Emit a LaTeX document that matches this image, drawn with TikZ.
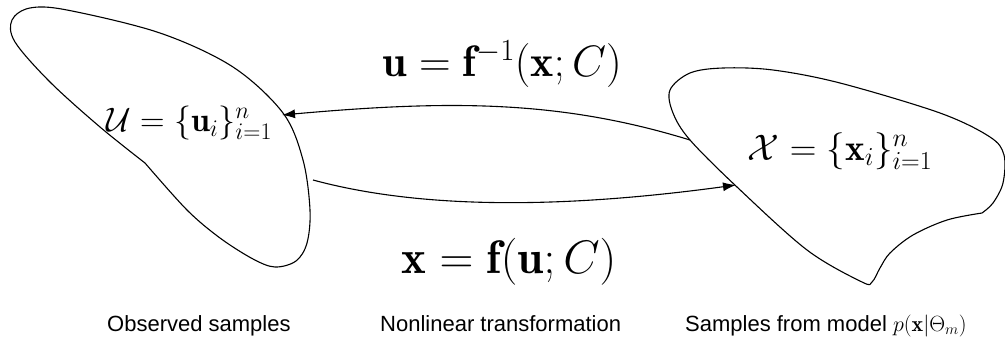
\documentclass[tikz,border=0pt]{standalone}
\usepackage{fix-cm}
\usepackage{amsmath}
\usepackage{fontspec}
\newfontfamily\labfont{Liberation Sans}
\usetikzlibrary{arrows.meta}
\tikzset{
  blob/.style={draw=black, line width=1.1pt, line join=round},
  conn/.style={draw=black, line width=1.1pt, -{Latex[length=13pt,width=9pt]}},
  lab/.style={font=\labfont\fontsize{22}{24}\selectfont, inner sep=0pt, anchor=base west},
  setlab/.style={inner sep=0pt, anchor=base},
  maplab/.style={inner sep=0pt, anchor=base}
}
\begin{document}
\begin{tikzpicture}[x=1pt,y=-1pt]
\useasboundingbox (0,0) rectangle (1005,343);
% left blob
\draw[blob] plot[smooth, tension=0.55] coordinates {
 (145,163) (187,210) (220,238) (253,259) (275,267) (296,261) (307,243) (310,210)
 (303,160) (283,113) (233,67) (160,33) (67,10) (30,8) (12,20) (15,42) (50,82) (100,127) (145,163)};
% right blob
\draw[blob] plot[smooth, tension=0.55] coordinates {
 (982,213) (947,220) (913,235) (890,253) (880,268) (872,282) (862,282) (807,250)
 (737,187) (690,140) (673,113) (670,90) (690,73) (723,68) (773,70) (840,83) (940,113) (990,137) (1004,155) (1003,183) (993,203) (982,213)};
% texts
\node[setlab, font=\fontsize{34}{38}\selectfont] (U) at (189,131) {$\mathcal{U}=\{\mathbf{u}_i\}_{i=1}^n$};
\node[setlab, font=\fontsize{37}{42}\selectfont] (X) at (840,160) {$\mathcal{X}=\{\mathbf{x}_i\}_{i=1}^n$};
\node[maplab, font=\fontsize{44}{48}\selectfont] (finv) at (502,76) {$\mathbf{u}=\mathbf{f}^{-1}(\mathbf{x};C)$};
\node[maplab, font=\fontsize{47}{50}\selectfont] (f) at (509,273) {$\mathbf{x}=\mathbf{f}(\mathbf{u};C)$};
\node[lab] (l1) at (107,331) {Observed samples};
\node[lab] (l2) at (380,331) {Nonlinear transformation};
\node[lab] (l3) at (685,331) {Samples from model $p(\mathbf{x}|\Theta_m)$};
% connectors
\coordinate (a1) at (690,140);
\coordinate (a2) at (282,115);
\coordinate (b1) at (313,180);
\coordinate (b2) at (736,185);
\draw[conn] (a1) .. controls (560,100) and (450,100) .. (a2);
\draw[conn] (b1) .. controls (420,209) and (560,209) .. (b2);
\end{tikzpicture}
\end{document}
